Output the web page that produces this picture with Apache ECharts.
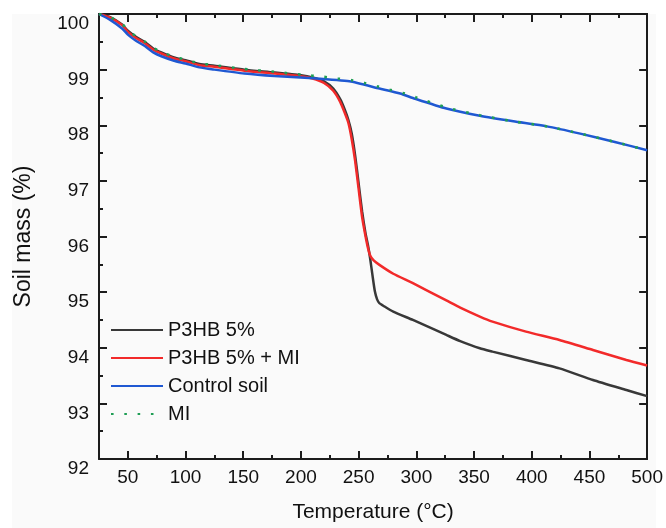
<!DOCTYPE html>
<html>
<head>
<meta charset="utf-8">
<script src="https://cdn.jsdelivr.net/npm/echarts@6/dist/echarts.min.js"></script>
<style>
  html, body { margin: 0; padding: 0; background: #ffffff; }
  #chart { width: 666px; height: 528px; }
</style>
</head>
<body>
<div id="chart"></div>
<script>
// Thermogravimetric curves: soil mass (%) versus temperature (°C)
const seriesNames = ['P3HB 5%', 'P3HB 5% + MI', 'Control soil', 'MI'];

const tempP3HB = [25, 35, 45, 50, 57, 65, 72, 79, 90, 100, 112, 125, 151, 177, 200, 210, 220, 228, 234, 238, 241, 244, 247, 250, 253, 256, 258, 260, 262, 264, 266, 268, 271, 280, 297, 326, 338, 355, 366, 395, 424, 453, 482, 500];
const massP3HB = [100, 99.94, 99.81, 99.70, 99.59, 99.49, 99.38, 99.31, 99.22, 99.17, 99.10, 99.07, 99.00, 98.95, 98.90, 98.86, 98.79, 98.66, 98.47, 98.28, 98.10, 97.85, 97.45, 96.95, 96.45, 96.05, 95.85, 95.60, 95.30, 95.02, 94.87, 94.80, 94.76, 94.65, 94.50, 94.23, 94.12, 93.99, 93.93, 93.78, 93.63, 93.42, 93.24, 93.13];

const tempP3HBMI = [25, 35, 45, 50, 57, 65, 72, 79, 90, 100, 112, 125, 151, 177, 200, 210, 220, 228, 234, 238, 241, 244, 247, 250, 253, 256, 258, 260, 263, 268, 280, 297, 326, 338, 355, 366, 395, 424, 453, 482, 500];
const massP3HBMI = [100, 99.93, 99.80, 99.68, 99.57, 99.47, 99.36, 99.29, 99.20, 99.15, 99.08, 99.05, 98.98, 98.93, 98.88, 98.84, 98.76, 98.62, 98.42, 98.22, 98.05, 97.75, 97.35, 96.85, 96.35, 96.00, 95.80, 95.66, 95.57, 95.49, 95.33, 95.16, 94.85, 94.72, 94.56, 94.47, 94.29, 94.14, 93.96, 93.78, 93.68];

const tempControl = [25, 35, 45, 50, 57, 65, 72, 79, 90, 100, 112, 125, 151, 177, 207, 242, 268, 286, 297, 326, 355, 384, 413, 442, 472, 500];
const massControl = [100, 99.89, 99.74, 99.63, 99.52, 99.42, 99.31, 99.24, 99.16, 99.11, 99.04, 99.00, 98.93, 98.885, 98.85, 98.79, 98.66, 98.57, 98.49, 98.30, 98.17, 98.07, 97.98, 97.85, 97.70, 97.55];

const tempMI = [25, 35, 45, 50, 57, 65, 72, 79, 90, 100, 112, 125, 151, 177, 200, 220, 232, 244, 255, 266, 277, 290, 300, 326, 355, 384, 413, 442, 472, 500];
const massMI = [100, 99.94, 99.82, 99.71, 99.60, 99.50, 99.39, 99.32, 99.23, 99.18, 99.11, 99.08, 99.01, 98.96, 98.91, 98.87, 98.84, 98.81, 98.76, 98.70, 98.64, 98.57, 98.50, 98.32, 98.18, 98.07, 97.98, 97.85, 97.70, 97.55];

const xMajorTicks = [50, 100, 150, 200, 250, 300, 350, 400, 450, 500];

function pairs(xs, ys) {
  return xs.map((x, i) => [x, ys[i]]);
}

const FONT = '"Liberation Sans", Arial, sans-serif';
const AXIS_COLOR = '#1c1c1c';
const axisLineStyle = { color: AXIS_COLOR, width: 2 };

function xAxisPair(position, withLabels) {
  const minor = {
    type: 'value', position: position, min: 25, max: 500, interval: 25,
    axisLine: { show: true, onZero: false, lineStyle: axisLineStyle },
    axisTick: { show: true, inside: true, length: 4, lineStyle: axisLineStyle },
    axisLabel: withLabels ? {
      show: true, margin: 9, color: '#111', fontFamily: FONT, fontSize: 19,
      formatter: v => (v % 50 === 0 ? String(v) : '')
    } : { show: false },
    splitLine: { show: false }
  };
  if (withLabels) {
    minor.name = 'Temperature (°C)';
    minor.nameLocation = 'middle';
    minor.nameGap = 43;
    minor.nameTextStyle = { color: '#111', fontFamily: FONT, fontSize: 21 };
  }
  const major = {
    type: 'value', position: position, min: 25, max: 500,
    axisLine: { show: false, onZero: false },
    axisTick: { show: true, inside: true, length: 8, lineStyle: axisLineStyle, customValues: xMajorTicks },
    axisLabel: { show: false },
    splitLine: { show: false }
  };
  return [minor, major];
}

function lineSeries(name, xs, ys, color, extraLine) {
  return {
    name: name, type: 'line', xAxisIndex: 0, yAxisIndex: 0,
    data: pairs(xs, ys), showSymbol: false, symbol: 'none', smooth: 0.2,
    lineStyle: Object.assign({ color: color, width: 2.5 }, extraLine || {}),
    itemStyle: { color: color }
  };
}

const chart = echarts.init(document.getElementById('chart'), null, { renderer: 'canvas' });

chart.setOption({
  backgroundColor: '#ffffff',
  animation: false,
  graphic: [{
    type: 'rect', z: -10, silent: true,
    shape: { x: 12, y: 14, width: 644, height: 514 },
    style: { fill: '#fafafa' }
  }],
  grid: { left: 99, right: 18, top: 14, bottom: 68, containLabel: false },
  xAxis: [...xAxisPair('bottom', true), ...xAxisPair('top', false)],
  yAxis: [{
    type: 'value', position: 'left', min: 92, max: 100, interval: 1,
    axisLine: { show: true, onZero: false, lineStyle: axisLineStyle },
    axisTick: { show: true, inside: true, length: 8, lineStyle: axisLineStyle },
    minorTick: { show: true, splitNumber: 2, length: 4, lineStyle: axisLineStyle },
    axisLabel: {
      margin: 10, color: '#111', fontFamily: FONT, fontSize: 19,
      verticalAlign: 'top', lineHeight: 20
    },
    splitLine: { show: false },
    name: 'Soil mass (%)', nameLocation: 'middle', nameGap: 64, nameRotate: 90,
    nameTextStyle: { color: '#111', fontFamily: FONT, fontSize: 23 }
  }, {
    type: 'value', position: 'right', min: 92, max: 100, interval: 1,
    axisLine: { show: true, onZero: false, lineStyle: axisLineStyle },
    axisTick: { show: true, inside: true, length: 8, lineStyle: axisLineStyle },
    axisLabel: { show: false },
    splitLine: { show: false }
  }],
  legend: {
    orient: 'vertical', left: 105, top: 315,
    itemWidth: 52, itemHeight: 14, itemGap: 8,
    data: seriesNames,
    itemStyle: { opacity: 0 },
    textStyle: { color: '#111', fontFamily: FONT, fontSize: 20, lineHeight: 20 }
  },
  series: [
    lineSeries(seriesNames[0], tempP3HB, massP3HB, '#383838'),
    lineSeries(seriesNames[1], tempP3HBMI, massP3HBMI, '#f22a2a'),
    lineSeries(seriesNames[2], tempControl, massControl, '#1f58d2'),
    lineSeries(seriesNames[3], tempMI, massMI, '#1f9e55', { width: 2.6, type: [2.6, 10.7] })
  ]
});
</script>
</body>
</html>
